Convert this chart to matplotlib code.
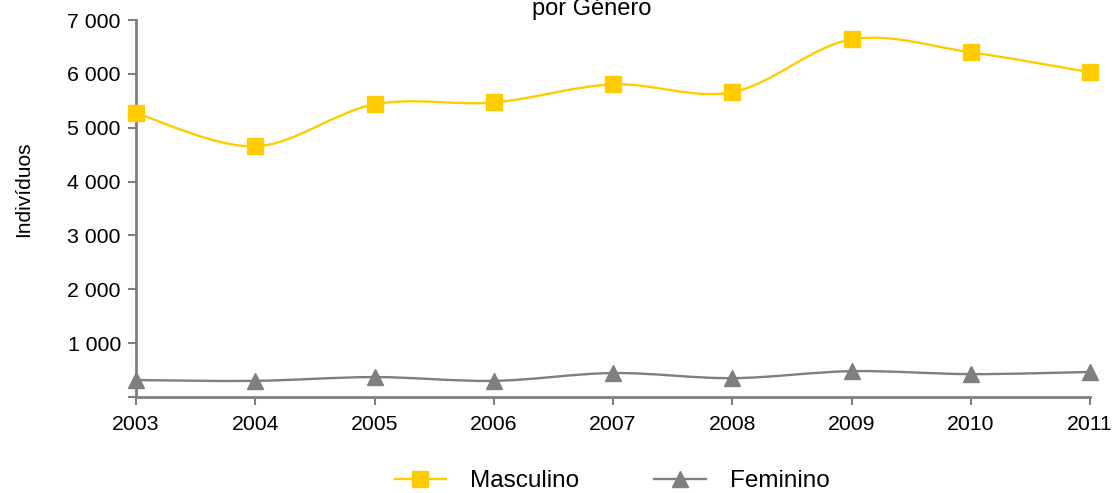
import numpy
import matplotlib
matplotlib.use("Agg")
import matplotlib.pyplot as plt
from matplotlib.path import Path
from matplotlib.patches import PathPatch
from matplotlib.lines import Line2D

plt.rcParams["font.family"] = ["Liberation Sans", "DejaVu Sans"]

years = [2003, 2004, 2005, 2006, 2007, 2008, 2009, 2010, 2011]
masculino = [5270, 4655, 5435, 5470, 5805, 5660, 6640, 6400, 6030]
feminino = [315, 300, 370, 300, 445, 350, 480, 425, 465]

yellow = "#FFCC00"
grey = "#7F7F7F"


def smooth_path(x, y):
    # Excel-like smoothed line: cubic Bezier, control points at 1/6 of neighbour span
    x = numpy.asarray(x, dtype=float)
    y = numpy.asarray(y, dtype=float)
    px = numpy.concatenate([[x[0]], x, [x[-1]]])
    py = numpy.concatenate([[y[0]], y, [y[-1]]])
    verts = [(x[0], y[0])]
    codes = [Path.MOVETO]
    for i in range(1, len(x)):
        c1 = (px[i] + (px[i + 1] - px[i - 1]) / 6, py[i] + (py[i + 1] - py[i - 1]) / 6)
        c2 = (px[i + 1] - (px[i + 2] - px[i]) / 6, py[i + 1] - (py[i + 2] - py[i]) / 6)
        verts += [c1, c2, (px[i + 1], py[i + 1])]
        codes += [Path.CURVE4] * 3
    return Path(verts, codes)


fig = plt.figure(figsize=(11.15, 4.93), dpi=100)
ax = fig.add_axes([0.122, 0.1947, 0.8556, 0.7647])

for vals, color, marker in [(masculino, yellow, "s"), (feminino, grey, "^")]:
    ax.add_patch(PathPatch(smooth_path(years, vals), facecolor="none",
                           edgecolor=color, linewidth=1.7, zorder=2))
    ax.plot(years, vals, linestyle="none", marker=marker, markersize=11,
            color=color, clip_on=False, zorder=3)

ax.set_xlim(2003, 2011)
ax.set_ylim(0, 7000)
ax.set_xticks(years)
ax.set_yticks(range(0, 7001, 1000))
ax.set_yticklabels([""] + [f"{v:,}".replace(",", " ") for v in range(1000, 7001, 1000)])

for side in ["top", "right"]:
    ax.spines[side].set_visible(False)
for side in ["left", "bottom"]:
    ax.spines[side].set_color(grey)
    ax.spines[side].set_linewidth(2)
ax.tick_params(axis="both", colors=grey, width=1.5, length=6, labelsize=15.3,
               labelcolor="black")
ax.tick_params(axis="x", pad=7)
ax.tick_params(axis="y", pad=5)

ax.set_ylabel("Indivíduos", fontsize=15)
ax.yaxis.set_label_coords(-0.108, 0.55)

fig.text(0.531, 1 - 15 / 493, "por Género", ha="center", va="baseline", fontsize=17)

handles = [
    Line2D([], [], color=yellow, marker="s", markersize=11, linewidth=1.7),
    Line2D([], [], color=grey, marker="^", markersize=11, linewidth=1.7),
]
fig.legend(handles, ["Masculino", "Feminino"], loc="center",
           bbox_to_anchor=(0.549, 0.024), ncol=2, frameon=False, fontsize=17.5,
           handlelength=2.1, columnspacing=3.1, handletextpad=1.0)

fig.savefig("out.png", dpi=100)
